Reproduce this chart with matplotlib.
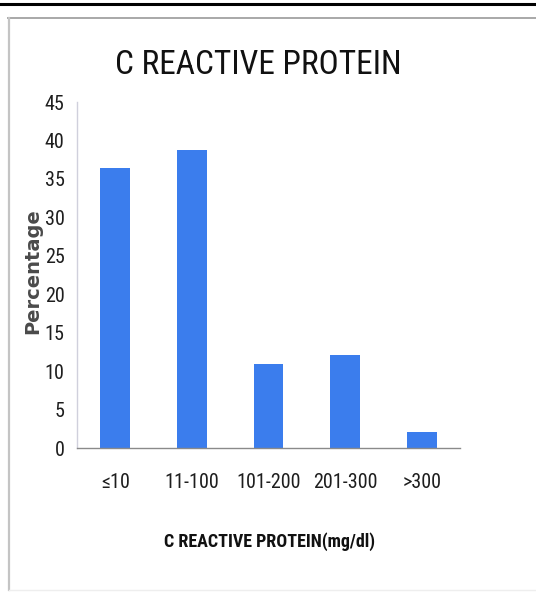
import matplotlib
matplotlib.use("Agg")
import matplotlib.pyplot as plt
from matplotlib.lines import Line2D
from matplotlib import font_manager

# Distribution of patients by C-reactive protein level
categories = ["\u226410", "11-100", "101-200", "201-300", ">300"]
percentages = [36.4, 38.8, 10.9, 12.1, 2.1]
yticks = [0, 5, 10, 15, 20, 25, 30, 35, 40, 45]

# prefer a narrow sans face when one is installed
entries = font_manager.fontManager.ttflist
names = {f.name for f in entries}
preferred = ["Liberation Sans Narrow", "Arial Narrow", "Roboto Condensed",
             "Noto Sans Condensed", "Open Sans Condensed", "DejaVu Sans Condensed"]
narrow_face = next((n for n in preferred if n in names), None)
if narrow_face is None:
    narrow_face = next((n for n in sorted(names)
                        if ("Narrow" in n or "Condensed" in n)
                        and "Light" not in n and "Thin" not in n), None)

def bold_face(face):
    """Return a family name that gives a heavy version of `face`."""
    if face is None:
        return None
    has_bold = any(f.name == face and
                   (f.weight if isinstance(f.weight, int) else 400) >= 600
                   for f in entries)
    if has_bold:
        return face
    for suffix in ("Bold", "SemiBold", "ExtraBold", "Black"):
        if f"{face} {suffix}" in names:
            return f"{face} {suffix}"
    return face

narrow_bold = bold_face(narrow_face)
sans = ([narrow_face] if narrow_face else []) + ["Liberation Sans", "DejaVu Sans"]
sans_bold = ([narrow_bold] if narrow_bold else []) + ["Liberation Sans", "DejaVu Sans"]
plt.rcParams["font.family"] = sans

W, H = 536, 592
fig = plt.figure(figsize=(W / 100, H / 100), dpi=100)
fig.patch.set_facecolor("white")

# page frame: black rule across the top and a light grey panel outline
def px_line(x0, y0, x1, y1, color, lw):
    fig.add_artist(Line2D([x0 / W, x1 / W], [1 - y0 / H, 1 - y1 / H],
                          transform=fig.transFigure, color=color, lw=lw))

px_line(0, 4, W, 4, "black", 2.2)
px_line(8, 18, W, 18, "#a8a8a8", 1.4)
px_line(9, 18, 9, 590, "#c4c4c4", 1.6)
px_line(9, 590, W, 590, "#eeeeee", 1.0)

ax = fig.add_axes([77 / W, 1 - 448 / H, (460 - 77) / W, (448 - 102) / H])
x = range(len(categories))
ax.bar(x, percentages, width=0.39, color="#3b7ded", zorder=2)

ax.set_xlim(-0.5, len(categories) - 0.5)
ax.set_ylim(0, 45)
ax.set_yticks(yticks)
ax.set_xticks(list(x))
ax.set_xticklabels(categories)

for s in ("top", "right"):
    ax.spines[s].set_visible(False)
ax.spines["left"].set_color("#d0d0dc")
ax.spines["left"].set_linewidth(1.0)
ax.spines["bottom"].set_color("#8a8a8a")
ax.spines["bottom"].set_linewidth(1.0)

tick_size = 14.5 if narrow_face else 12
ax.tick_params(axis="y", length=0, pad=9, labelsize=tick_size, labelcolor="#1e1e1e")
ax.tick_params(axis="x", length=0, pad=18, labelsize=tick_size, labelcolor="#1e1e1e")

ax.set_ylabel("Percentage", family=["DejaVu Sans"], fontsize=14,
              fontweight="bold", color="#4a4a4a")
ax.yaxis.set_label_coords(-0.09, 0.51)

fig.text(258 / W, 1 - 65 / H, "C REACTIVE PROTEIN", ha="center", va="center",
         fontsize=24 if narrow_face else 19.5, color="#111111")
fig.text(270 / W, 1 - 542 / H, "C REACTIVE PROTEIN(mg/dl)", ha="center",
         va="center", fontsize=13 if narrow_face else 11.5, fontweight="bold",
         family=sans_bold, color="#111111")

fig.savefig("out.png", dpi=100, facecolor="white")
